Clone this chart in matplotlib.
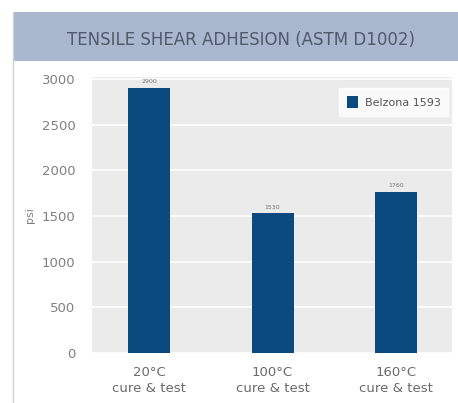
import matplotlib
matplotlib.use("Agg")
import matplotlib.pyplot as plt
from matplotlib.patches import Rectangle
from matplotlib.lines import Line2D

categories = ["20°C\ncure & test", "100°C\ncure & test", "160°C\ncure & test"]
values = [2900, 1530, 1760]
value_labels = ["2900", "1530", "1760"]
series_name = "Belzona 1593"
yticks = [0, 500, 1000, 1500, 2000, 2500, 3000]
title = "TENSILE SHEAR ADHESION (ASTM D1002)"

W, H = 458, 403
fig = plt.figure(figsize=(W / 100, H / 100), dpi=100)
fig.patch.set_facecolor("white")

# page border line on the left
fig.add_artist(Line2D([13 / W, 13 / W], [0, 1 - 12 / H], transform=fig.transFigure,
                      color="#d4d4d4", lw=1))
# header band
fig.add_artist(Rectangle((13 / W, 1 - 61 / H), 1 - 13 / W, 49 / H, transform=fig.transFigure,
                         facecolor="#a9b8cf", edgecolor="none"))
fig.text(241 / W, 1 - 40 / H, title, ha="center", va="center", fontsize=12,
         color="#4f5a6a", family="DejaVu Sans")

ax = fig.add_axes([92 / W, 1 - 353 / H, (452 - 92) / W, (353 - 77) / H])
ax.set_facecolor("#ebebeb")
x = list(range(len(categories)))
bars = ax.bar(x, values, width=0.34, color="#0b4a7e", zorder=3, label=series_name)
ax.set_xlim(-0.46, 2.45)
ax.set_ylim(0, 3020)
ax.set_yticks(yticks)
ax.set_yticklabels([str(t) for t in yticks])
ax.yaxis.grid(True, color="white", lw=1.2, zorder=1)
ax.set_axisbelow(True)
for s in ax.spines.values():
    s.set_visible(False)
ax.tick_params(axis="both", length=0, colors="#808080", labelsize=9.5)
ax.tick_params(axis="y", pad=12)
ax.tick_params(axis="x", pad=9)
ax.set_xticks(x)
ax.set_xticklabels(categories, fontsize=9.5, color="#6a6a6a", linespacing=1.35)
ax.set_ylabel("psi", color="#808080", fontsize=8, labelpad=5)

for xi, v, lab in zip(x, values, value_labels):
    ax.text(xi, v + 40, lab, ha="center", va="bottom", fontsize=4.5, color="#777777")

leg = ax.legend(loc="upper right", bbox_to_anchor=(0.99, 0.96), borderaxespad=0,
                frameon=True, fontsize=8, handlelength=1.0, handleheight=1.3,
                borderpad=0.7, handletextpad=0.6, fancybox=False, labelcolor="#555555")
leg.get_frame().set_facecolor("white")
leg.get_frame().set_edgecolor("white")

fig.savefig("out.png", dpi=100, facecolor="white")
